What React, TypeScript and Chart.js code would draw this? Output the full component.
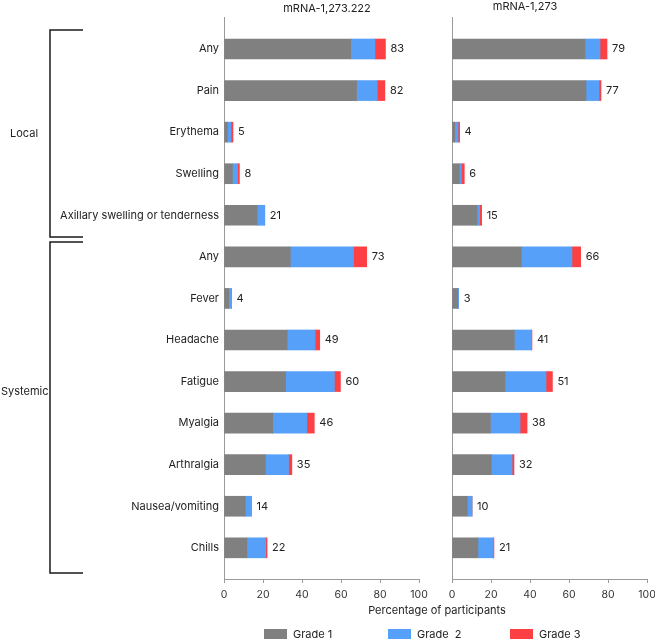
import React, { useEffect, useRef } from "react";
import { Chart, registerables } from "chart.js";

Chart.register(...registerables);

const categories = [
  "Any",
  "Pain",
  "Erythema",
  "Swelling",
  "Axillary swelling or tenderness",
  "Any",
  "Fever",
  "Headache",
  "Fatigue",
  "Myalgia",
  "Arthralgia",
  "Nausea/vomiting",
  "Chills",
];

const xTicks = [0, 20, 40, 60, 80, 100];

// mRNA-1,273.222
const leftGrade1 = [65, 68, 1.7, 4.3, 17, 34, 2.4, 32.4, 31.6, 25, 21.3, 11, 11.7];
const leftGrade2 = [12.4, 10.6, 1.9, 2.6, 3.9, 32.4, 1.5, 14.3, 25, 17.5, 11.8, 3.1, 9.7];
const leftGrade3 = [5.4, 3.9, 1.0, 1.0, 0, 6.8, 0, 2.4, 3.1, 3.8, 1.7, 0, 0.7];
const leftTotals = [83, 82, 5, 8, 21, 73, 4, 49, 60, 46, 35, 14, 22];

// mRNA-1,273
const rightGrade1 = [68.2, 68.7, 1.4, 3.8, 12.8, 35.6, 2.9, 32, 27.2, 19.7, 20.2, 7.9, 13.3];
const rightGrade2 = [7.7, 6.7, 1.7, 1.0, 1.4, 25.9, 0.5, 8.7, 21, 15.2, 10.6, 2.4, 7.9];
const rightGrade3 = [3.6, 1.0, 0.8, 1.5, 1.0, 4.5, 0, 0.3, 3.3, 3.6, 1.0, 0, 0.3];
const rightTotals = [79, 77, 4, 6, 15, 66, 3, 41, 51, 38, 32, 10, 21];

const gradeLabels = ["Grade 1", "Grade  2", "Grade 3"];
const gradeColors = ["#808080", "#56a0fa", "#fd4043"];

const FONT = "Inter, 'Liberation Sans', sans-serif";

function buildConfig(
  g1: number[],
  g2: number[],
  g3: number[],
  totals: number[],
  showLabels: boolean,
  yWidth: number,
  padRight: number
): any {
  const series = [g1, g2, g3];
  const totalsPlugin = {
    id: "totals",
    afterDatasetsDraw(chart: any) {
      const ctx = chart.ctx;
      const meta = chart.getDatasetMeta(2);
      ctx.save();
      ctx.font = `11px ${FONT}`;
      ctx.fillStyle = "#222";
      ctx.textAlign = "left";
      ctx.textBaseline = "middle";
      meta.data.forEach((el: any, i: number) => {
        ctx.fillText(String(totals[i]), el.x + 5, el.y);
      });
      ctx.restore();
    },
  };
  return {
    type: "bar",
    data: {
      datasets: series.map((vals, k) => ({
        label: gradeLabels[k],
        data: vals.map((v, i) => ({ x: v, y: i })),
        backgroundColor: gradeColors[k],
        borderWidth: 0,
        barThickness: 20,
      })),
    },
    options: {
      indexAxis: "y",
      responsive: false,
      animation: false,
      layout: { padding: { left: 0, right: padRight, top: 17, bottom: 32 } },
      plugins: { legend: { display: false }, tooltip: { enabled: false } },
      scales: {
        x: {
          type: "linear",
          stacked: true,
          min: 0,
          max: 100,
          afterBuildTicks: (scale: any) => {
            scale.ticks = xTicks.map((v) => ({ value: v }));
          },
          afterFit: (scale: any) => {
            scale.height = 30;
            scale.paddingLeft = 0;
            scale.paddingRight = 0;
          },
          grid: {
            drawOnChartArea: false,
            drawTicks: true,
            tickLength: 4,
            color: "#9a9a9a",
          },
          border: { display: true, color: "#9a9a9a", width: 1 },
          ticks: {
            color: "#333",
            font: { family: FONT, size: 10.5 },
            padding: 6,
            maxRotation: 0,
          },
        },
        y: {
          type: "linear",
          stacked: true,
          reverse: true,
          offset: false,
          min: -0.77,
          max: 12.75,
          afterBuildTicks: (scale: any) => {
            scale.ticks = categories.map((_, i) => ({ value: i }));
          },
          afterFit: (scale: any) => {
            scale.width = yWidth;
            scale.paddingTop = 0;
            scale.paddingBottom = 0;
          },
          grid: { display: false, drawTicks: false },
          border: { display: true, color: "#9a9a9a", width: 1 },
          ticks: {
            autoSkip: false,
            padding: 5,
            color: "#222",
            font: { family: FONT, size: 11 },
            callback: (value: any) => (showLabels ? categories[Math.round(value)] : ""),
          },
        },
      },
    },
    plugins: [totalsPlugin],
  };
}

function Panel(props: {
  left: number;
  width: number;
  config: () => any;
}) {
  const ref = useRef<HTMLCanvasElement | null>(null);
  useEffect(() => {
    if (!ref.current) return;
    const chart = new Chart(ref.current, props.config());
    return () => chart.destroy();
  }, []);
  return (
    <canvas
      ref={ref}
      width={props.width}
      height={641}
      style={{
        position: "absolute",
        left: props.left,
        top: 0,
        width: props.width,
        height: 641,
        display: "block",
      }}
    />
  );
}

const textBase: React.CSSProperties = {
  position: "absolute",
  fontFamily: FONT,
  fontSize: 11,
  color: "#222",
  whiteSpace: "nowrap",
  lineHeight: "14px",
};

export default function App() {
  return (
    <div
      style={{
        position: "absolute",
        left: 0,
        top: 0,
        width: 655,
        height: 641,
        overflow: "hidden",
        background: "#fff",
      }}
    >
      <Panel
        left={0}
        width={440}
        config={() =>
          buildConfig(leftGrade1, leftGrade2, leftGrade3, leftTotals, true, 224, 21)
        }
      />
      <Panel
        left={440}
        width={240}
        config={() =>
          buildConfig(rightGrade1, rightGrade2, rightGrade3, rightTotals, false, 12, 33)
        }
      />
      <svg
        width={100}
        height={641}
        style={{ position: "absolute", left: 0, top: 0 }}
      >
        <polyline
          points="83,30 50,30 50,237 83,237"
          fill="none"
          stroke="#1a1a1a"
          strokeWidth={1.5}
        />
        <polyline
          points="83,242 50,242 50,573 83,573"
          fill="none"
          stroke="#1a1a1a"
          strokeWidth={1.5}
        />
      </svg>
      <div style={{ ...textBase, left: 10, top: 126 }}>Local</div>
      <div style={{ ...textBase, left: 1, top: 384 }}>Systemic</div>
      <div
        style={{ ...textBase, left: 327, top: 1, transform: "translateX(-50%)" }}
      >
        mRNA-1,273.222
      </div>
      <div
        style={{ ...textBase, left: 525, top: -1, transform: "translateX(-50%)" }}
      >
        mRNA-1,273
      </div>
      <div
        style={{ ...textBase, left: 437, top: 603, transform: "translateX(-50%)" }}
      >
        Percentage of participants
      </div>
      {gradeLabels.map((g, k) => {
        const boxLeft = [264, 388, 510][k];
        return (
          <React.Fragment key={g}>
            <div
              style={{
                position: "absolute",
                left: boxLeft,
                top: 629,
                width: 23,
                height: 10,
                background: gradeColors[k],
              }}
            />
            <div style={{ ...textBase, left: boxLeft + 29, top: 627, whiteSpace: "pre" }}>
              {g}
            </div>
          </React.Fragment>
        );
      })}
    </div>
  );
}
